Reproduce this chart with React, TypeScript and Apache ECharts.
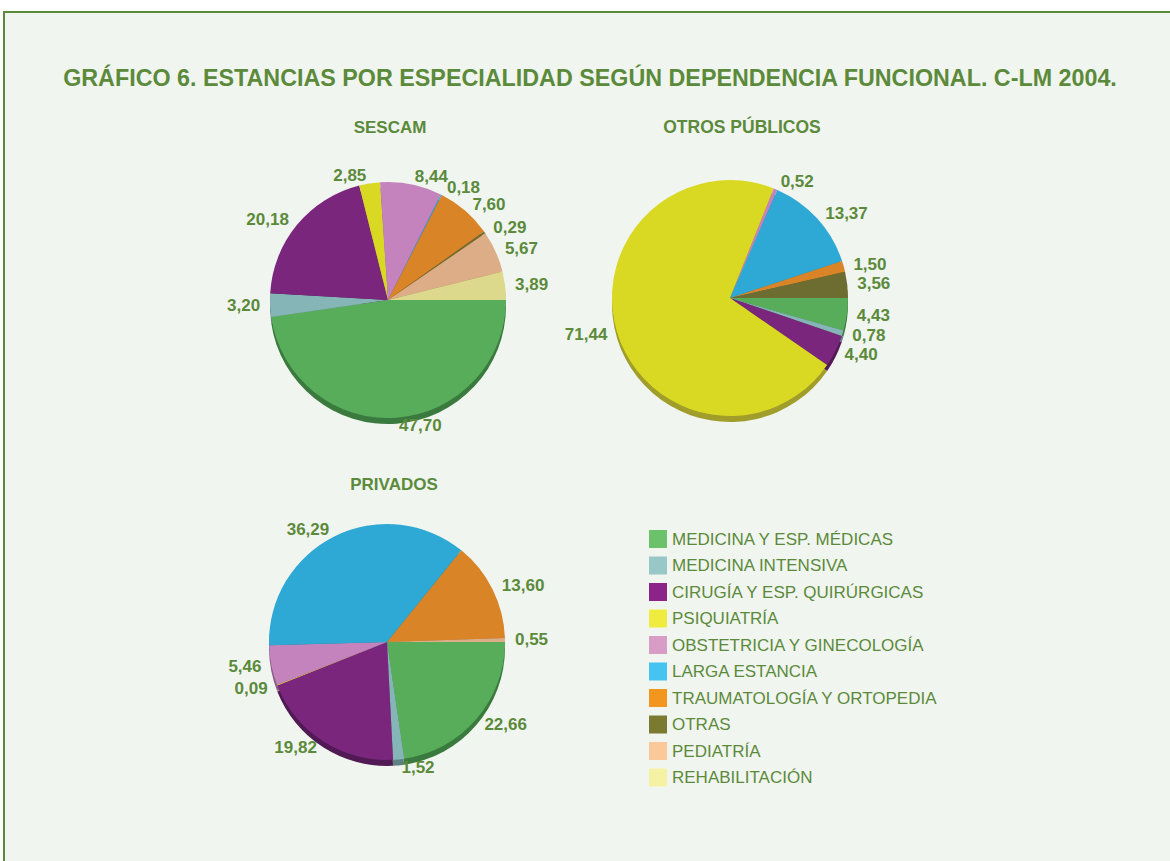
import React, { useEffect, useRef } from "react";
import * as echarts from "echarts";

const TITLE = "GRÁFICO 6. ESTANCIAS POR ESPECIALIDAD SEGÚN DEPENDENCIA FUNCIONAL. C-LM 2004.";
const PIE_TITLES = ["SESCAM", "OTROS PÚBLICOS", "PRIVADOS"];

const CATEGORIES = [
  "MEDICINA Y ESP. MÉDICAS",
  "MEDICINA INTENSIVA",
  "CIRUGÍA Y ESP. QUIRÚRGICAS",
  "PSIQUIATRÍA",
  "OBSTETRICIA Y GINECOLOGÍA",
  "LARGA ESTANCIA",
  "TRAUMATOLOGÍA Y ORTOPEDIA",
  "OTRAS",
  "PEDIATRÍA",
  "REHABILITACIÓN",
];

const SESCAM = [47.7, 3.2, 20.18, 2.85, 8.44, 0.18, 7.6, 0.29, 5.67, 3.89];
const OTROS_PUBLICOS = [4.43, 0.78, 4.4, 71.44, 0.52, 13.37, 1.5, 3.56, 0, 0];
const PRIVADOS = [22.66, 1.52, 19.82, 0.09, 5.46, 36.29, 13.6, 0, 0.55, 0];

const SLICE_COLORS = ["#58ad5b", "#85b5b6", "#7a267c", "#d9d924", "#c583bd", "#2ea8d4", "#d98427", "#6d6c31", "#dcad86", "#ddd98c"];
const SIDE_COLORS = ["#3b7a3e", "#5d8283", "#521a54", "#a09d2a", "#8d5b87", "#1f7898", "#9a5c1b", "#4a4a22", "#9c7a5e", "#9e9a62"];
const LEGEND_COLORS = ["#6cc16b", "#98c7c7", "#8b2388", "#f0ec3f", "#d89dc7", "#45c4f1", "#f3961f", "#7a7b30", "#fbc89a", "#f5f2a3"];

const TEXT_GREEN = "#5b8a3b";
const FONT = '"Liberation Sans", Arial, sans-serif';

export default function App() {
  const ref = useRef<HTMLDivElement>(null);

  useEffect(() => {
    document.body.style.margin = "0";
    const chart = echarts.init(ref.current!, null, { renderer: "svg" });

    const pies = [
      { name: PIE_TITLES[0], values: SESCAM, center: [388, 300], titlePos: [390, 127], titleSize: 17 },
      { name: PIE_TITLES[1], values: OTROS_PUBLICOS, center: [730, 298], titlePos: [742, 127], titleSize: 17.5 },
      { name: PIE_TITLES[2], values: PRIVADOS, center: [387, 642], titlePos: [394, 484], titleSize: 17 },
    ];
    const R = 118;

    const series: any[] = [];
    pies.forEach((p) => {
      // dark side (3D thickness)
      series.push({
        type: "pie",
        name: p.name + " lado",
        center: [p.center[0], p.center[1] + 6],
        radius: R,
        startAngle: 0,
        clockwise: true,
        silent: true,
        z: 1,
        avoidLabelOverlap: false,
        label: { show: false },
        labelLine: { show: false },
        emphasis: { disabled: true },
        itemStyle: { borderWidth: 0 },
        data: CATEGORIES.map((c, i) => ({ name: c, value: p.values[i], itemStyle: { color: SIDE_COLORS[i] } })),
      });
      series.push({
        type: "pie",
        name: p.name,
        center: p.center,
        radius: R,
        startAngle: 0,
        clockwise: true,
        z: 2,
        avoidLabelOverlap: false,
        labelLayout: { hideOverlap: false },
        emphasis: { disabled: true },
        itemStyle: { borderWidth: 0 },
        label: {
          show: true,
          position: "outside",
          distanceToLabelLine: 2,
          color: TEXT_GREEN,
          fontFamily: FONT,
          fontWeight: "bold",
          fontSize: 17,
          formatter: (d: any) => (d.value > 0 ? d.value.toFixed(2).replace(".", ",") : ""),
        },
        labelLine: { show: false, length: 8, length2: 0 },
        data: CATEGORIES.map((c, i) => ({ name: c, value: p.values[i], itemStyle: { color: SLICE_COLORS[i] } })),
      });
    });

    const textEl = (text: string, x: number, y: number, size: number) => ({
      type: "text",
      x,
      y,
      z: 5,
      style: {
        text,
        font: `bold ${size}px ${FONT}`,
        fill: TEXT_GREEN,
        align: "center",
        verticalAlign: "middle",
        textAlign: "center",
        textVerticalAlign: "middle",
      },
    });

    chart.setOption({
      animation: false,
      backgroundColor: "#ffffff",
      graphic: [
        {
          type: "rect",
          z: -10,
          shape: { x: 4, y: 12, width: 1200, height: 900 },
          style: { fill: "#f1f5ef", stroke: "#5b8a3b", lineWidth: 2 },
        },
        textEl(TITLE, 590, 78, 23.3),
        ...pies.map((p) => textEl(p.name, p.titlePos[0], p.titlePos[1], p.titleSize)),
      ],
      legend: {
        orient: "vertical",
        left: 649,
        top: 530,
        padding: 0,
        icon: "rect",
        itemWidth: 18,
        itemHeight: 18,
        itemGap: 8.5,
        selectedMode: false,
        itemStyle: { borderWidth: 0 },
        textStyle: { color: TEXT_GREEN, fontFamily: FONT, fontSize: 17 },
        data: CATEGORIES.map((c, i) => ({ name: c, itemStyle: { color: LEGEND_COLORS[i] } })),
      },
      series,
    });

    return () => chart.dispose();
  }, []);

  return <div ref={ref} style={{ width: 1170, height: 861 }} />;
}
